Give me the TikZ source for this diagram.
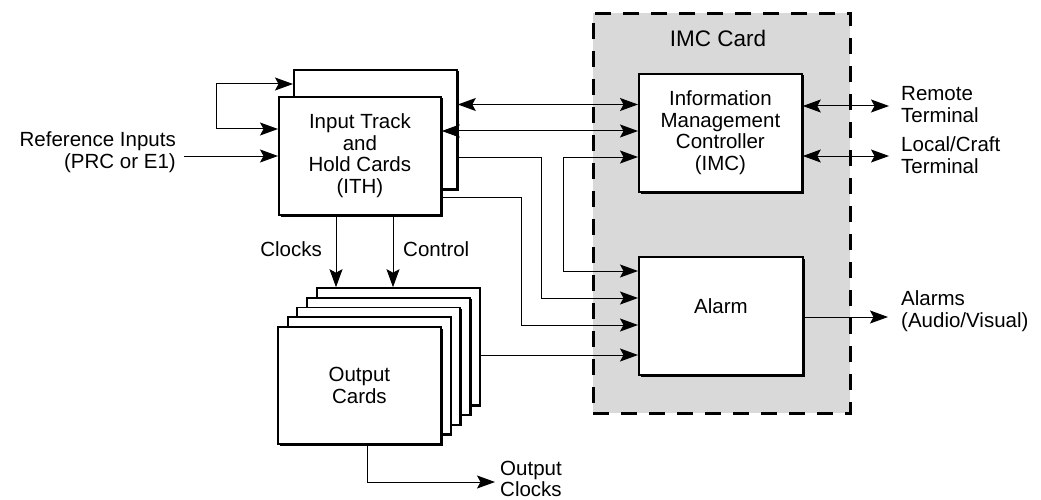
\documentclass[tikz,border=0pt]{standalone}
\usepackage{fontspec}
\setmainfont{Liberation Sans}
\usetikzlibrary{arrows.meta,shadows}
\definecolor{cardgray}{HTML}{D9D9D9}
\begin{document}
\begin{tikzpicture}[x=1pt,y=-1pt,
  font=\fontsize{20.5}{21.5}\selectfont,
  card/.style={draw, line width=1.8pt, fill=white, anchor=north west, inner sep=0pt,
    align=center, general shadow={fill=black, shadow xshift=1.6pt, shadow yshift=-1.6pt}},
  tip/.tip={Stealth[length=18pt,width=13pt,inset=3.5pt]},
  conn/.style={line width=1pt, arrows={-tip}},
  bconn/.style={line width=1pt, arrows={tip-tip}},
  lbl/.style={inner sep=0pt, align=left, anchor=west}]
\useasboundingbox (0,0) rectangle (1041,500);

% IMC card background
\node[draw, line width=2.8pt, dash pattern=on 16pt off 12pt, fill=cardgray, anchor=north west,
  minimum width=257pt, minimum height=400pt, inner sep=0pt] (imccard) at (592,12) {};
\node[inner sep=0pt, font=\fontsize{22.5}{24}\selectfont] (imctitle) at (718,38) {IMC Card};

% ITH cards
\node[card, minimum width=163pt, minimum height=119pt] (ithb) at (293,69) {};
\node[card, minimum width=162pt, minimum height=118pt] (ith) at (278,96)
  {\rule{0pt}{10pt}Input Track\\and\\Hold Cards\\(ITH)};

% Output cards
\foreach \k in {4,3,2,1} {
  \node[card, minimum width=163pt, minimum height=117pt] (oc\k) at (277+9.7*\k, 326-9.7*\k) {};
}
\node[card, minimum width=163pt, minimum height=117pt] (oc0) at (277,326) {Output\\Cards};

% IMC and Alarm
\node[card, minimum width=163pt, minimum height=118pt] (imc) at (638,73)
  {Information\\Management\\Controller\\(IMC)};
\node[card, minimum width=164pt, minimum height=118pt,
  label={[inner sep=0pt, yshift=10pt]center:Alarm}] (alarm) at (638,256) {};

% Loop on ITH
\draw[bconn] (ithb.west |- 0,84) -- (216,84) -- (216,129) -- (ith.west |- 0,129);
% Reference inputs
\node[inner sep=0pt, align=right, anchor=east] (ref) at (176,152) {Reference Inputs\\(PRC or E1)};
\draw[conn] (ref.east |- 0,156) ++(8,0) coordinate (refs) (refs) -- (ith.west |- 0,156);

% ITH <-> IMC
\draw[bconn] (ithb.east |- 0,104.5) -- (imc.west |- 0,104.5);
\draw[bconn] (ith.east |- 0,131) -- (imc.west |- 0,131);
% ITH -> Alarm
\draw[conn] (ithb.east |- 0,157) -- (541,157) -- (541,298) -- (alarm.west |- 0,298);
\draw[conn] (ith.east |- 0,197) -- (521,197) -- (521,325) -- (alarm.west |- 0,325);
% IMC / Alarm branch
\draw[bconn] (imc.west |- 0,157) -- (563,157) -- (563,271) -- (alarm.west |- 0,271);
% Output cards -> Alarm
\draw[conn] (oc4.east |- 0,355) -- (alarm.west |- 0,355);

% Clocks / Control
\draw[conn] (ith.south -| 336,0) -- (oc4.north -| 336,0);
\draw[conn] (ith.south -| 393,0) -- (oc4.north -| 393,0);
\node[inner sep=0pt, anchor=east] (clk) at (322,249) {Clocks};
\node[inner sep=0pt, anchor=west] (ctl) at (403,249) {Control};

% Output clocks
\coordinate (ocend) at (495,482);
\draw[conn] (oc0.south -| 367,0) -- (367,482) -- (ocend);
\node[lbl] (oclbl) at (500,479) {Output\\Clocks};

% Alarm output
\coordinate (alend) at (888,317);
\draw[conn] (alarm.east |- 0,317) -- (alend);
\node[lbl] (allbl) at (901,311) {Alarms\\(Audio/Visual)};

% IMC terminals
\coordinate (rtend) at (889,106);
\coordinate (ltend) at (889,156);
\draw[bconn] (imc.east |- 0,106) -- (rtend);
\draw[bconn] (imc.east |- 0,156) -- (ltend);
\node[lbl] (rt) at (901,104.5) {Remote\\Terminal};
\node[lbl] (lt) at (901,155) {Local/Craft\\Terminal};
\end{tikzpicture}
\end{document}
